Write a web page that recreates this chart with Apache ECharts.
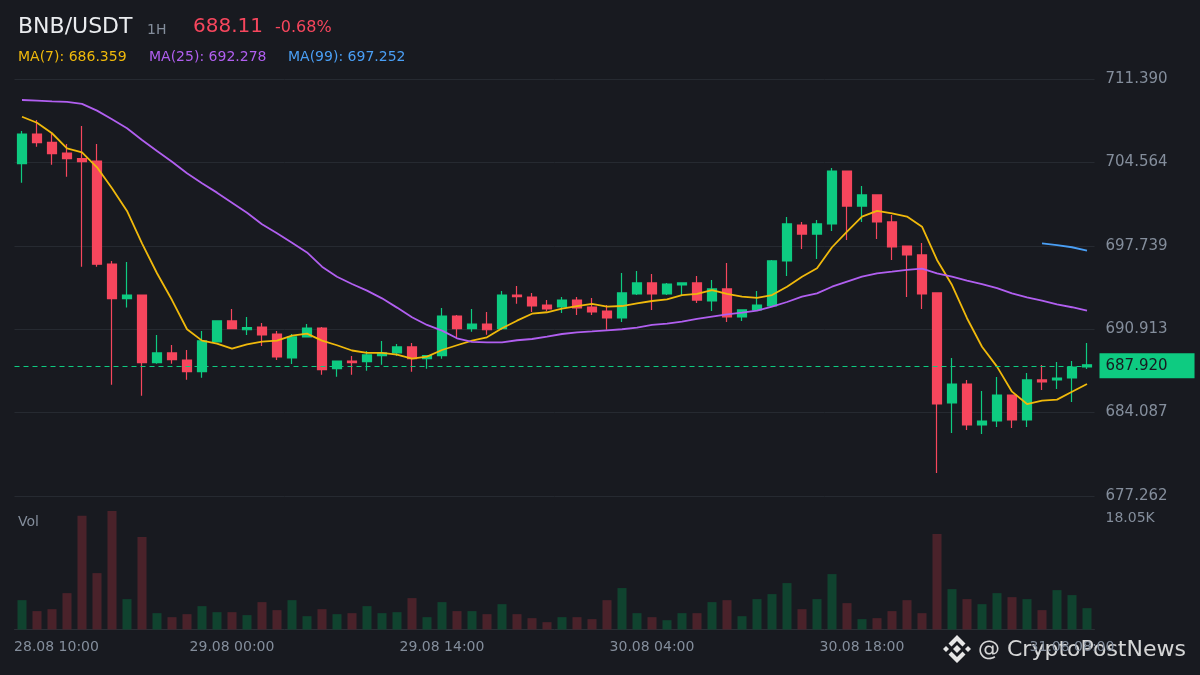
<!DOCTYPE html>
<html><head><meta charset="utf-8">
<script src="https://cdn.jsdelivr.net/npm/echarts@6/dist/echarts.min.js"></script>
<style>html,body{margin:0;padding:0;background:#181a20}#c{width:1200px;height:675px}</style>
</head><body><div id="c"></div><script>
const categories = [
'28.08 10:00','28.08 11:00','28.08 12:00','28.08 13:00','28.08 14:00','28.08 15:00','28.08 16:00','28.08 17:00','28.08 18:00','28.08 19:00','28.08 20:00','28.08 21:00','28.08 22:00','28.08 23:00',
'29.08 00:00','29.08 01:00','29.08 02:00','29.08 03:00','29.08 04:00','29.08 05:00','29.08 06:00','29.08 07:00','29.08 08:00','29.08 09:00','29.08 10:00','29.08 11:00','29.08 12:00','29.08 13:00','29.08 14:00','29.08 15:00','29.08 16:00','29.08 17:00','29.08 18:00','29.08 19:00','29.08 20:00','29.08 21:00','29.08 22:00','29.08 23:00',
'30.08 00:00','30.08 01:00','30.08 02:00','30.08 03:00','30.08 04:00','30.08 05:00','30.08 06:00','30.08 07:00','30.08 08:00','30.08 09:00','30.08 10:00','30.08 11:00','30.08 12:00','30.08 13:00','30.08 14:00','30.08 15:00','30.08 16:00','30.08 17:00','30.08 18:00','30.08 19:00','30.08 20:00','30.08 21:00','30.08 22:00','30.08 23:00',
'31.08 00:00','31.08 01:00','31.08 02:00','31.08 03:00','31.08 04:00','31.08 05:00','31.08 06:00','31.08 07:00','31.08 08:00','31.08 09:00'];

const opens = [704.46,706.89,706.20,705.33,704.87,704.68,696.25,693.41,693.71,688.17,
688.97,688.39,687.44,689.87,691.59,690.87,691.09,690.52,688.56,690.28,
691.01,687.68,688.31,688.26,688.75,688.97,689.46,688.50,688.75,691.99,
690.96,691.34,690.96,693.71,693.55,692.89,692.73,693.30,692.73,692.40,
691.83,693.80,694.70,693.80,694.53,694.70,693.22,694.21,691.91,692.49,
692.81,696.50,699.44,698.70,699.53,703.86,700.99,701.90,699.69,697.72,
696.99,693.88,684.88,686.43,683.08,683.40,685.53,683.48,686.76,686.76,
686.92,687.82];
const closes = [706.89,706.18,705.28,704.87,704.62,696.23,693.41,693.71,688.17,688.97,
688.42,687.44,689.95,691.59,690.96,691.04,690.44,688.64,690.28,691.01,
687.60,688.31,688.17,688.81,688.97,689.46,688.50,688.75,691.99,690.96,
691.34,690.87,693.71,693.58,692.81,692.57,693.30,692.65,692.32,691.83,
693.88,694.70,693.80,694.61,694.70,693.30,694.21,691.91,692.49,692.89,
696.50,699.53,698.70,699.53,703.86,700.99,701.90,699.69,697.64,696.99,
693.80,684.79,686.43,683.08,683.40,685.53,683.48,686.76,686.60,686.92,
687.82,688.00];
const lows = [702.90,705.85,704.38,703.39,696.03,696.03,686.37,692.68,685.47,688.09,
688.09,686.78,686.95,689.87,690.96,690.44,689.54,688.40,688.07,690.28,
687.19,687.03,687.19,687.52,688.01,688.72,687.44,687.68,688.50,690.14,
690.70,690.46,690.87,693.00,692.32,692.40,692.24,692.07,692.07,690.87,
691.50,693.71,692.49,693.71,693.71,693.05,692.40,691.50,691.58,692.49,
692.81,695.27,697.48,696.66,698.95,698.22,699.69,698.30,696.58,693.55,
692.57,679.15,682.42,682.67,682.34,682.91,682.83,682.91,685.94,686.02,
684.96,687.66];
const highs = [707.14,708.03,707.03,706.07,707.54,706.07,696.50,696.42,693.71,690.44,
689.62,689.21,690.77,691.59,692.57,691.91,691.42,690.77,690.52,691.34,
691.09,688.31,688.72,689.13,689.95,689.70,689.78,688.75,692.65,692.07,
692.57,692.32,694.04,694.45,693.88,693.30,693.55,693.55,693.47,692.89,
695.51,695.68,695.43,694.70,694.70,695.27,694.94,696.33,692.49,694.04,
696.58,700.10,699.69,699.85,704.10,703.86,702.63,701.90,700.26,697.72,
697.97,693.88,688.56,686.76,685.86,687.00,685.53,687.33,687.99,688.23,
688.31,689.78];
const volumesK = [4.47,2.80,3.10,5.54,17.34,8.59,18.05,4.63,14.08,2.49,
1.88,2.34,3.56,2.64,2.64,2.19,4.17,2.95,4.47,2.03,
3.10,2.34,2.49,3.56,2.49,2.64,4.78,1.88,4.17,2.80,
2.80,2.34,3.86,2.34,1.73,1.12,1.88,1.88,1.58,4.47,
6.31,2.49,1.88,1.42,2.49,2.49,4.17,4.47,2.03,4.63,
5.39,7.07,3.10,4.63,8.44,4.02,1.58,1.73,2.80,4.47,
2.49,14.54,6.15,4.63,3.86,5.54,4.93,4.63,2.95,6.00,
5.24,3.25];
const ma7 = [708.30,707.81,706.95,705.72,705.39,704.16,702.45,700.59,697.94,695.49,
693.30,690.91,689.98,689.73,689.32,689.68,689.89,689.98,690.38,690.55,
689.98,689.60,689.17,688.97,688.97,688.83,688.50,688.67,689.21,689.60,
689.98,690.25,690.99,691.61,692.18,692.30,692.60,692.80,692.98,692.76,
692.81,693.03,693.22,693.36,693.71,693.80,694.12,693.80,693.58,693.47,
693.71,694.39,695.21,695.90,697.62,698.90,700.13,700.59,700.40,700.13,
699.30,696.58,694.53,691.81,689.48,687.85,685.80,684.79,685.07,685.15,
685.80,686.43];
const ma25 = [709.67,709.62,709.56,709.51,709.35,708.80,708.09,707.36,706.40,705.50,
704.62,703.67,702.86,702.09,701.27,700.45,699.50,698.76,697.99,697.20,
696.03,695.21,694.61,694.07,693.44,692.68,691.89,691.26,690.80,690.17,
689.87,689.84,689.84,690.01,690.11,690.30,690.52,690.66,690.73,690.82,
690.91,691.04,691.26,691.37,691.53,691.75,691.94,692.13,692.27,692.43,
692.76,693.14,693.58,693.85,694.39,694.80,695.21,695.49,695.62,695.76,
695.87,695.49,695.21,694.88,694.61,694.28,693.85,693.52,693.25,692.95,
692.71,692.43];
const ma99 = [null,null,null,null,null,null,null,null,null,null,
null,null,null,null,null,null,null,null,null,null,
null,null,null,null,null,null,null,null,null,null,
null,null,null,null,null,null,null,null,null,null,
null,null,null,null,null,null,null,null,null,null,
null,null,null,null,null,null,null,null,null,null,
null,null,null,null,null,null,null,null,697.93,697.80,
697.62,697.35];
const priceTicks = [677.262,684.087,690.913,697.739,704.564,711.390];
const priceTickLabels = ['677.262','684.087','690.913','697.739','704.564','711.390'];
const lastPrice = 687.92;
const lastPriceLabel = '687.920';
const volMaxK = 18.05;
const volMaxLabel = '18.05K';

const UP = '#0ecb81', DOWN = '#f6465d';
const F = 'DejaVu Sans';
const candleData = opens.map((o, i) => [o, closes[i], lows[i], highs[i]]);
const volData = volumesK.map((v, i) => ({
  value: v,
  itemStyle: { color: closes[i] >= opens[i] ? '#10432f' : '#4a222a' }
}));

const chart = echarts.init(document.getElementById('c'));
chart.setOption({
  backgroundColor: '#181a20',
  animation: false,
  textStyle: { fontFamily: F },
  grid: [
    { left: 14.5, width: 1080, top: 79, height: 417 },
    { left: 14.5, width: 1080, top: 511, height: 118.5 }
  ],
  xAxis: [
    { type: 'category', data: categories, gridIndex: 0, boundaryGap: true,
      axisLine: { show: false }, axisTick: { show: false }, axisLabel: { show: false }, splitLine: { show: false } },
    { type: 'category', data: categories, gridIndex: 1, boundaryGap: true,
      axisLine: { show: true, lineStyle: { color: '#2b2f36', width: 1 } }, axisTick: { show: false },
      splitLine: { show: false },
      axisLabel: { interval: 13, color: '#848e9c', fontSize: 14, fontFamily: F, margin: 11,
        formatter: (v, i) => (i === 0 ? '{f|' + v + '}' : v),
        rich: { f: { color: '#848e9c', fontSize: 14, fontFamily: F, padding: [0, 0, 0, 69] } } } }
  ],
  yAxis: [
    { type: 'value', gridIndex: 0, position: 'right', min: priceTicks[0], max: priceTicks[5],
      interval: (priceTicks[5] - priceTicks[0]) / 5,
      axisLine: { show: false }, axisTick: { show: false },
      splitLine: { show: true, lineStyle: { color: '#262a31', width: 1 } },
      axisLabel: { color: '#848e9c', fontSize: 15, fontFamily: F, margin: 11,
        formatter: v => {
          let best = 0;
          priceTicks.forEach((t, i) => { if (Math.abs(t - v) < Math.abs(priceTicks[best] - v)) best = i; });
          return priceTickLabels[best];
        } } },
    { type: 'value', gridIndex: 1, position: 'right', min: 0, max: volMaxK, interval: volMaxK,
      axisLine: { show: false }, axisTick: { show: false }, splitLine: { show: false },
      axisLabel: { color: '#848e9c', fontSize: 14, fontFamily: F, margin: 11, verticalAlign: 'top',
        formatter: v => (v > 0 ? volMaxLabel : '') } }
  ],
  series: [
    { type: 'candlestick', xAxisIndex: 0, yAxisIndex: 0, data: candleData, barWidth: 9,
      itemStyle: { color: UP, color0: DOWN, borderColor: UP, borderColor0: DOWN, borderWidth: 1.2 },
      markLine: { symbol: 'none', silent: true, animation: false,
        lineStyle: { color: UP, type: [5, 4], width: 1 },
        label: { show: true, position: 'end', distance: 5, formatter: lastPriceLabel,
          backgroundColor: UP, color: '#181a20', fontSize: 15, fontFamily: F, padding: [5, 27, 5, 6] },
        data: [{ yAxis: lastPrice }] } },
    { type: 'line', xAxisIndex: 0, yAxisIndex: 0, data: ma7, symbol: 'none', smooth: false,
      lineStyle: { color: '#f0b90b', width: 1.8 }, z: 3 },
    { type: 'line', xAxisIndex: 0, yAxisIndex: 0, data: ma25, symbol: 'none', smooth: false,
      lineStyle: { color: '#b15ff0', width: 1.8 }, z: 3 },
    { type: 'line', xAxisIndex: 0, yAxisIndex: 0, data: ma99, symbol: 'none', smooth: false,
      lineStyle: { color: '#4a9ff5', width: 1.8 }, z: 3 },
    { type: 'bar', xAxisIndex: 1, yAxisIndex: 1, data: volData, barWidth: 9 }
  ],
  graphic: [
    { type: 'text', x: 18, y: 27, style: { text: 'BNB/USDT', fill: '#eaecef', font: '22px "DejaVu Sans"', verticalAlign: 'middle' } },
    { type: 'text', x: 147, y: 30, style: { text: '1H', fill: '#848e9c', font: '14px "DejaVu Sans"', verticalAlign: 'middle' } },
    { type: 'text', x: 193, y: 27, style: { text: '688.11', fill: DOWN, font: '20px "DejaVu Sans"', verticalAlign: 'middle' } },
    { type: 'text', x: 275, y: 28, style: { text: '-0.68%', fill: DOWN, font: '16px "DejaVu Sans"', verticalAlign: 'middle' } },
    { type: 'text', x: 18, y: 57, style: { text: 'MA(7): 686.359', fill: '#f0b90b', font: '14px "DejaVu Sans"', verticalAlign: 'middle' } },
    { type: 'text', x: 149, y: 57, style: { text: 'MA(25): 692.278', fill: '#b15ff0', font: '14px "DejaVu Sans"', verticalAlign: 'middle' } },
    { type: 'text', x: 288, y: 57, style: { text: 'MA(99): 697.252', fill: '#4a9ff5', font: '14px "DejaVu Sans"', verticalAlign: 'middle' } },
    { type: 'text', x: 18, y: 522, style: { text: 'Vol', fill: '#848e9c', font: '14px "DejaVu Sans"', verticalAlign: 'middle' } },
    { type: 'group', z: 100, children: [
      { type: 'polygon', shape: { points: [[957,645],[961,649],[957,653],[953,649]] }, style: { fill: '#e6e6e6' } },
      { type: 'polygon', shape: { points: [[946,646],[949,649],[946,652],[943,649]] }, style: { fill: '#e6e6e6' } },
      { type: 'polygon', shape: { points: [[968,646],[971,649],[968,652],[965,649]] }, style: { fill: '#e6e6e6' } },
      { type: 'polygon', shape: { points: [[957,635],[965.5,643.5],[962.5,646.5],[957,641],[951.5,646.5],[948.5,643.5]] }, style: { fill: '#e6e6e6' } },
      { type: 'polygon', shape: { points: [[957,663],[965.5,654.5],[962.5,651.5],[957,657],[951.5,651.5],[948.5,654.5]] }, style: { fill: '#e6e6e6' } },
      { type: 'text', x: 978, y: 650, style: { text: '@ CryptoPostNews', fill: 'rgba(230,230,230,0.92)', font: '22px "DejaVu Sans"', verticalAlign: 'middle' } }
    ] }
  ]
});
</script></body></html>
